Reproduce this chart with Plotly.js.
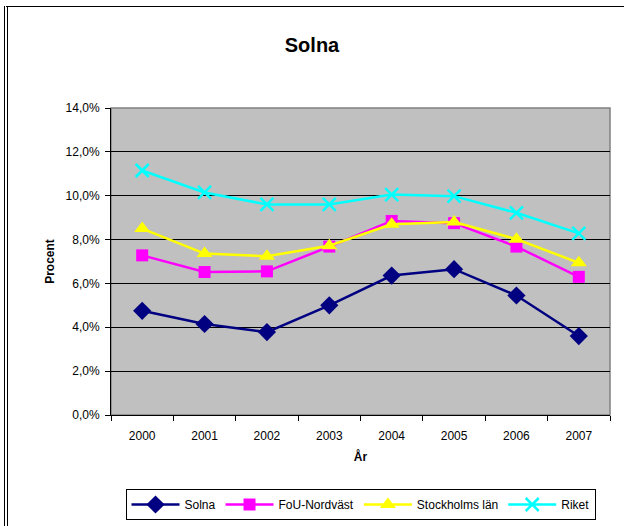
<!DOCTYPE html>
<html>
<head>
<meta charset="utf-8">
<script src="https://cdn.plot.ly/plotly-3.0.1.min.js"></script>
<style>
html,body{margin:0;padding:0;background:#fff;}
#wrap{position:relative;width:624px;height:526px;}
#chart{position:absolute;left:0;top:0;width:624px;height:526px;}
#frame{position:absolute;left:4px;top:6px;width:620px;height:530px;border-left:4px double #000;border-top:1px solid #000;pointer-events:none;box-sizing:border-box;}
</style>
</head>
<body>
<div id="wrap"><div id="chart"></div><div id="frame"></div></div>
<script>
const years = ['2000','2001','2002','2003','2004','2005','2006','2007'];
const solna = [4.75, 4.15, 3.78, 5.0, 6.36, 6.65, 5.45, 3.6];
const fou = [7.28, 6.52, 6.55, 7.68, 8.85, 8.75, 7.68, 6.3];
const stockholm = [8.5, 7.36, 7.24, 7.72, 8.7, 8.8, 8.02, 6.94];
const riket = [11.15, 10.15, 9.6, 9.6, 10.05, 9.98, 9.22, 8.28];
const seriesNames = ['Solna', 'FoU-Nordväst', 'Stockholms län', 'Riket'];
const yTicks = [0, 2, 4, 6, 8, 10, 12, 14];

const pct = a => a.map(v => v / 100);
const font = 'Liberation Sans, Arial, sans-serif';

const traces = [
  {x: years, y: pct(solna), name: seriesNames[0], type: 'scatter', mode: 'lines+markers',
   line: {color: '#000080', width: 2.5}, marker: {symbol: 'diamond', size: 14, color: '#000080'}},
  {x: years, y: pct(fou), name: seriesNames[1], type: 'scatter', mode: 'lines+markers',
   line: {color: '#FF00FF', width: 2.5}, marker: {symbol: 'square', size: 12, color: '#FF00FF'}},
  {x: years, y: pct(stockholm), name: seriesNames[2], type: 'scatter', mode: 'lines+markers',
   line: {color: '#FFFF00', width: 2.5}, marker: {symbol: 'triangle-up', size: 14, color: '#FFFF00'}},
  {x: years, y: pct(riket), name: seriesNames[3], type: 'scatter', mode: 'lines+markers',
   line: {color: '#00FFFF', width: 2.5}, marker: {symbol: 'x-thin-open', size: 13, color: '#00FFFF', line: {color: '#00FFFF', width: 2.5}}}
];

const layout = {
  width: 624, height: 526,
  margin: {l: 111, r: 14, t: 108, b: 111},
  paper_bgcolor: 'rgba(0,0,0,0)',
  plot_bgcolor: '#C0C0C0',
  separators: ', ',
  font: {family: font, size: 12, color: '#000'},
  title: {text: '<b>Solna</b>', x: 0.5, xref: 'container', xanchor: 'center', y: 1 - 45/526, yanchor: 'middle',
          font: {family: font, size: 20, color: '#000'}},
  xaxis: {
    type: 'category', range: [-0.5, 7.5], tickson: 'boundaries', automargin: false,
    ticks: 'outside', ticklen: 5, tickcolor: '#000', tickwidth: 1, ticklabelstandoff: 10,
    showline: true, linecolor: '#000', linewidth: 1, showgrid: false, zeroline: false,
    tickfont: {family: font, size: 12},
    title: {text: '<b>År</b>', font: {family: font, size: 12}, standoff: 10}
  },
  yaxis: {
    range: [0, 0.14], tickvals: pct(yTicks), tickformat: '.1%', automargin: false,
    ticks: 'outside', ticklen: 5, tickcolor: '#000', tickwidth: 1, ticklabelstandoff: 3,
    showline: true, linecolor: '#000', linewidth: 1,
    showgrid: true, gridcolor: '#000', gridwidth: 1, zeroline: false,
    tickfont: {family: font, size: 12},
    title: {text: '<b>Procent</b>', font: {family: font, size: 12}, standoff: 8}
  },
  shapes: [
    {type: 'rect', xref: 'paper', yref: 'paper', x0: 0, x1: 1, y0: 0, y1: 1,
     line: {color: '#808080', width: 1.5}, layer: 'below'}
  ],
  showlegend: true,
  legend: {
    orientation: 'h', x: 0.5, xanchor: 'center', yref: 'container', y: 1 - 489/526, yanchor: 'top',
    bordercolor: '#000', borderwidth: 1, bgcolor: '#fff',
    font: {family: font, size: 12}, itemwidth: 48, tracegroupgap: 0
  }
};

Plotly.newPlot('chart', traces, layout, {displayModeBar: false, staticPlot: true});
</script>
</body>
</html>
